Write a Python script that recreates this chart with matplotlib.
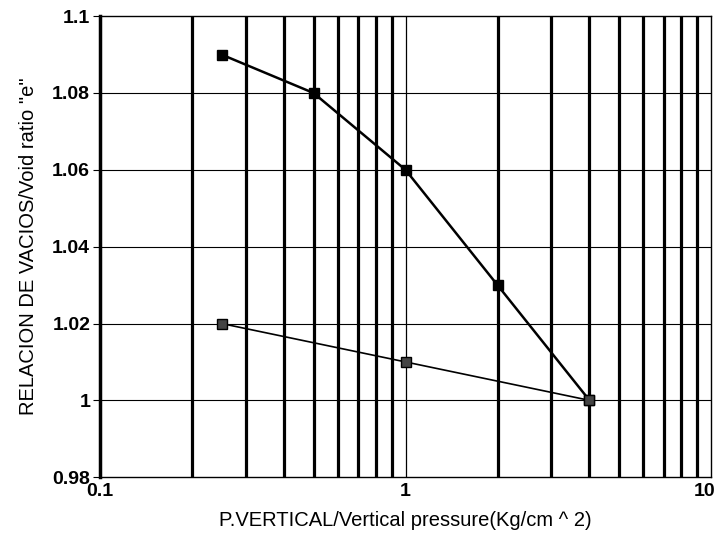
import numpy as np
import matplotlib.pyplot as plt
import matplotlib.transforms as mtransforms
from matplotlib.ticker import FixedLocator, NullFormatter

plt.rcParams['font.family'] = ['Liberation Sans', 'DejaVu Sans']

# loading branch
carga_p = [0.25, 0.5, 1, 2, 4]
carga_e = [1.09, 1.08, 1.06, 1.03, 1.00]
# unloading branch
descarga_p = [4, 1, 0.25]
descarga_e = [1.00, 1.01, 1.02]

y_ticks = [0.98, 1.0, 1.02, 1.04, 1.06, 1.08, 1.1]
y_labels = ['0.98', '1', '1.02', '1.04', '1.06', '1.08', '1.1']
x_ticks = [0.1, 1, 10]
x_labels = ['0.1', '1', '10']
minor_x = [0.2, 0.3, 0.4, 0.5, 0.6, 0.7, 0.8, 0.9, 2, 3, 4, 5, 6, 7, 8, 9]

fig = plt.figure(figsize=(7.19, 5.38), dpi=100)
ax = fig.add_axes([0.139, 0.113, 0.850, 0.857])
ax.set_xscale('log')
ax.set_xlim(0.1, 10)
ax.set_ylim(0.98, 1.1)

# grid
for x in minor_x:
    ax.axvline(x, color='black', lw=2.3, zorder=1)
ax.axvline(1, color='black', lw=0.9, zorder=1)
for y in y_ticks[1:-1]:
    ax.axhline(y, color='black', lw=0.8, zorder=1)

ax.plot(carga_p, carga_e, color='black', lw=1.8, marker='s', ms=7,
        mfc='black', mec='black', zorder=3)
ax.plot(descarga_p, descarga_e, color='black', lw=1.2, marker='s', ms=6.5,
        mfc='#444444', mec='black', zorder=3)

ax.xaxis.set_major_locator(FixedLocator(x_ticks))
ax.set_xticklabels(x_labels)
ax.xaxis.set_minor_locator(FixedLocator(minor_x))
ax.xaxis.set_minor_formatter(NullFormatter())
ax.set_yticks(y_ticks)
ax.set_yticklabels(y_labels)
ax.tick_params(axis='x', which='both', length=0, labelsize=14, pad=4)
ax.tick_params(axis='y', length=5, direction='out', labelsize=14, pad=2)
for lab in ax.get_xticklabels() + ax.get_yticklabels():
    lab.set_fontweight('bold')

# keep "10" inside the figure
last = ax.get_xticklabels()[-1]
last.set_transform(last.get_transform() +
                   mtransforms.ScaledTranslation(-0.07, 0, fig.dpi_scale_trans))

ax.spines['left'].set_linewidth(2.5)
for s in ['right', 'top', 'bottom']:
    ax.spines[s].set_linewidth(1.0)

ax.set_xlabel('P.VERTICAL/Vertical pressure(Kg/cm ^ 2)', fontsize=14.5, labelpad=8)
ax.set_ylabel('RELACION DE VACIOS/Void ratio "e"', fontsize=14.5, labelpad=10)

plt.savefig('out.png', dpi=100)
